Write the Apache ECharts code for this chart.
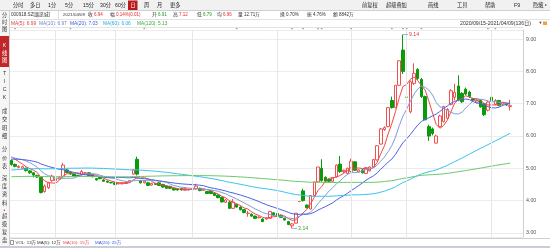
<!DOCTYPE html>
<html><head><meta charset="utf-8">
<script src="https://cdn.jsdelivr.net/npm/echarts@6/dist/echarts.min.js"></script>
<style>html,body{margin:0;padding:0;background:#fff}#c{width:550px;height:248px}</style>
</head><body><div id="c"></div><script>
// ---- categories: trading days 2020/09/15 - 2021/04/09 ----
const months = ['2020/09','2020/10','2020/11','2020/12','2021/01','2021/02','2021/03','2021/04'];
const monthDays = [
 [15,16,17,18,21,22,23,24,25,28,29,30],
 [9,12,13,14,15,16,19,20,21,22,23,26,27,28,29,30],
 [2,3,4,5,6,9,10,11,12,13,16,17,18,19,20,23,24,25,26,27,30],
 [1,2,3,4,7,8,9,10,11,14,15,16,17,18,21,22,23,24,25,28,29,30,31],
 [4,5,6,7,8,11,12,13,14,15,18,19,20,21,22,25,26,27,28,29],
 [1,2,3,4,5,8,9,10,18,19,22,23,24,25,26],
 [1,2,3,4,5,8,9,10,11,12,15,16,17,18,19,22,23,24,25,26,29,30,31],
 [1,2,6,7,8,9]
];
// ---- daily prices ----
const open = [5.24,5.12,5.03,5.00,5.00,4.92,4.86,4.78,4.72,4.28, 4.40,4.62,4.62,4.66,4.74,4.95,4.88,4.82,4.78,4.80, 4.85,4.86,4.80,4.68,4.72,4.64,4.60,4.56,4.55,4.52, 4.52,4.53,4.56,4.82,5.28,4.62,4.55,4.55,4.48,4.53, 4.55,4.50,4.45,4.44,4.38,4.36,4.37,4.32,4.33,4.35, 4.36,4.38,4.32,4.28,4.30,4.23,4.17,4.10,3.95,3.95, 3.76,3.88,3.80,3.72,3.60,3.58,3.52,3.47,3.43,3.43, 3.45,3.62,3.60,3.55,3.45,3.35,3.22,3.30,3.97,4.30, 3.86,3.74,4.16,4.58,5.00,4.72,4.66,4.60,4.74,5.13, 4.90,4.84,4.90,5.20,4.88,4.95,4.84,4.92,5.04,5.26, 5.75,6.20,6.29,7.10,6.88,7.57,8.66,7.20,6.75,7.63, 8.06,7.75,7.22,6.29,6.22,5.78,6.29,6.45,6.55,6.98, 7.20,7.55,7.32,7.45,7.36,7.15,7.05,7.10,7.00,6.80, 7.20,6.98,7.10,6.98,7.00,6.91];
const close = [5.12,5.06,5.06,5.05,4.93,4.86,4.79,4.73,4.25,4.45, 4.55,4.76,4.68,4.72,5.10,4.87,4.82,4.76,4.76,4.90, 4.86,4.78,4.74,4.64,4.68,4.60,4.57,4.55,4.50,4.54, 4.55,4.56,4.62,4.95,4.82,4.55,4.60,4.47,4.53,4.50, 4.47,4.42,4.38,4.38,4.33,4.33,4.33,4.37,4.35,4.38, 4.45,4.31,4.33,4.22,4.22,4.16,4.09,3.96,4.02,3.76, 3.95,3.80,3.72,3.63,3.61,3.52,3.45,3.49,3.35,3.46, 3.66,3.55,3.52,3.48,3.40,3.26,3.28,3.61,3.97,4.00, 3.78,4.16,4.58,5.04,4.62,4.60,4.60,4.70,5.10,4.90, 4.94,5.00,5.22,4.94,4.95,4.86,5.02,5.04,5.27,5.70, 6.22,6.26,6.88,6.88,7.57,8.33,8.00,7.20,7.68,7.94, 7.78,7.22,6.50,6.00,6.08,6.00,6.62,6.91,6.82,7.40, 7.35,7.12,7.06,7.30,7.22,7.10,7.10,6.90,6.66,7.05, 7.10,7.10,6.95,7.03,6.96,6.94];
const low = [5.08,5.03,5.00,4.97,4.90,4.83,4.72,4.70,4.22,4.25, 4.36,4.58,4.60,4.64,4.72,4.85,4.80,4.74,4.74,4.78, 4.83,4.76,4.72,4.62,4.66,4.58,4.55,4.53,4.48,4.50, 4.50,4.52,4.55,4.80,4.78,4.53,4.53,4.45,4.46,4.48, 4.45,4.40,4.36,4.36,4.31,4.31,4.31,4.30,4.31,4.33, 4.34,4.29,4.30,4.20,4.20,4.14,4.07,3.94,3.93,3.74, 3.74,3.78,3.70,3.61,3.50,3.50,3.43,3.45,3.33,3.41, 3.44,3.53,3.50,3.46,3.38,3.24,3.14,3.29,3.97,3.97, 3.76,3.72,4.14,4.56,4.58,4.56,4.56,4.58,4.72,4.86, 4.86,4.82,4.88,4.92,4.86,4.84,4.82,4.90,5.02,5.24, 5.73,6.16,6.27,6.85,6.86,7.55,7.92,7.20,6.70,7.58, 7.74,7.18,6.50,5.85,6.02,5.76,6.26,6.42,6.52,6.95, 7.10,7.08,7.02,7.26,7.18,7.06,7.02,6.88,6.62,6.76, 6.70,6.95,6.92,6.95,6.93,6.79];
const high = [5.28,5.15,5.09,5.08,5.02,4.94,4.88,4.80,4.74,4.50, 4.58,4.80,4.72,4.75,5.17,4.98,4.90,4.84,4.80,4.95, 4.88,4.88,4.82,4.70,4.74,4.66,4.62,4.58,4.57,4.56, 4.57,4.58,4.64,4.98,5.36,4.64,4.62,4.57,4.55,4.55, 4.57,4.52,4.47,4.46,4.40,4.38,4.39,4.39,4.37,4.40, 4.52,4.40,4.35,4.30,4.32,4.25,4.19,4.12,4.05,3.98, 4.05,3.90,3.82,3.74,3.68,3.60,3.54,3.51,3.45,3.48, 3.68,3.64,3.62,3.57,3.47,3.37,3.30,3.61,3.97,4.37, 3.88,4.16,4.58,5.04,5.28,4.75,4.68,4.72,5.12,5.38, 4.96,5.02,5.30,5.22,4.97,4.98,5.04,5.06,5.29,5.72, 6.25,6.30,6.89,7.22,7.57,8.33,9.14,7.20,7.72,8.25, 8.10,7.80,7.25,6.35,6.26,6.04,6.66,6.94,6.86,7.45, 7.62,7.88,7.36,7.50,7.40,7.18,7.15,7.12,7.03,7.10, 7.30,7.14,7.12,7.06,7.03,7.12];
// estimated closes before 2020/09/15 (only feed the moving averages)
const priorClose = [4.62,4.68,4.71,4.75,4.8,4.78,4.74,4.7,4.76,4.82,4.85,4.81,4.77,4.72,4.7,4.74,4.79,4.83,4.8,4.76,4.73,4.69,4.72,4.78,4.81,4.77,4.74,4.7,4.66,4.62,4.58,4.52,4.45,4.38,
 4.3,4.22,4.18,4.15,4.12,4.1,4.14,4.18,4.2,4.16,4.13,4.17,4.22,4.26,4.3,4.35,
 4.38,4.42,4.4,4.45,4.48,4.5,4.47,4.44,4.46,4.5,4.53,4.55,4.52,4.5,4.54,4.58,4.56,4.53,4.55,4.6,4.62,4.58,4.6,4.64,4.66,4.7,4.68,4.72,
 4.75,4.78,4.82,4.8,4.85,4.88,4.86,4.9,4.93,4.9,4.88,4.92,4.95,4.98,4.96,4.94,4.97,5.0,5.02,5.05,5.08,5.1,
 5.12,5.15,5.2,5.18,5.22,5.25,5.28,5.3,5.27,5.32,5.35,5.3,5.28,5.34,5.38,5.42,5.45,5.4,5.38];
const maPeriods = [5,10,20,60,120];
const maColors = ['#f04848','#7f9cd8','#4a62ea','#3cc2ec','#6cc86c'];
const maTextColors = ['#e23a3a','#6a86c4','#3c58e0','#22a9dc','#3aa83a'];
const yTicks = [3,4,5,6,7,8,9];
const eventDays = [1,16,36,61,76,79,83,84,92,103,106,107,111,129,131];
// ---- header texts ----
const toolbarLeft = ['分时','多日','1分','5分','15分','30分','60分','日','周','月','更多'];
const toolbarRight = ['前复权','超级叠加','画线','工具','帮助','F9','隐藏'];
const quoteItems = [['收','6.94','#e32b2b'],['幅','0.14%(0.01)','#e32b2b'],['开','6.91','#1a9a1a'],['高','7.12','#e32b2b'],['低','6.79','#1a9a1a'],['均','6.96','#e32b2b'],['量','12.71万','#333'],['换','0.70%','#333'],['振','4.76%','#333'],['额','8842万','#333']];
const maLegend = ['MA(5): 6.99','MA(10): 6.97','MA(20): 7.03','MA(60): 6.06','MA(120): 5.13'];
const volLegend = [['VOL: 13万','#333'],['MA(5): 12万','#333'],['MA(10): 15万','#e84a4a'],['MA(20): 25万','#3e5ce0']];
const sideTabs = ['分时图','K线图','TICK','成交明细','分价表','深度资料','超级复盘'];

// ---- build ----
const dates = [];
months.forEach((m,k)=>monthDays[k].forEach(d=>dates.push(m+'/'+String(d).padStart(2,'0'))));
const axisCats = dates.concat(['','','']);
const ohlc = dates.map((d,i)=>[open[i],close[i],low[i],high[i]]);
const allClose = priorClose.concat(close);
function movingAvg(n){
  return close.map((_,i)=>{const j=i+priorClose.length; if(j-n+1<0) return null; let s=0; for(let k=j-n+1;k<=j;k++) s+=allClose[k]; return +(s/n).toFixed(3);});
}
const monthStarts = [];
for(let i=1;i<dates.length;i++){ if(dates[i].slice(0,7)!==dates[i-1].slice(0,7)) monthStarts.push(i); }

const F = '"Liberation Sans","Noto Sans CJK SC",sans-serif';
function T(x,y,text,fill,size,align){return {type:'text',x:x,y:y,silent:true,z:100,style:{text:text,fill:fill||'#333',font:(size||5)+'px '+F,textAlign:align||'left',textVerticalAlign:'middle'}};}
function R(x,y,w,h,fill,stroke,z){return {type:'rect',silent:true,z:z||90,shape:{x:x,y:y,width:w,height:h},style:{fill:fill||'none',stroke:stroke||null,lineWidth:1}};}
function L(x1,y1,x2,y2,c){return {type:'line',silent:true,z:95,shape:{x1:x1,y1:y1,x2:x2,y2:y2},style:{stroke:c||'#d0d0d0',lineWidth:1}};}

const g = [];
// toolbar
g.push(R(0,0,550,10,'#f1f1f1',null,80));
g.push(L(0,10.5,550,10.5,'#cfcfcf'));
const tlX=[13,30,48,65,83,100,115,130,144,157,170];
toolbarLeft.forEach((s,k)=>{
  if(s==='日'){ g.push(R(128,0.5,9.5,9.5,'#b81c1c',null,91)); g.push(T(132.8,5.3,s,'#fff',5.2,'center')); }
  else g.push(T(tlX[k],5.3,s,'#222',5.2));
});
const trX=[362,386,428,457,485,514,533];
toolbarRight.forEach((s,k)=>g.push(T(trX[k],5.3,s,'#222',5.2)));
g.push(T(545,5.3,'▸','#555',4));
// quote row
g.push(L(10,19.5,550,19.5,'#e2e2e2'));
g.push(T(11,14.7,'000918.SZ[嘉凯城]','#333',4.6));
g.push(L(58.5,11,58.5,19,'#e0e0e0'));
g.push(T(63,14.7,'2021/04/09','#333',4.4));
const qX=[88,110,152,173,197,217,238,280,307,333];
quoteItems.forEach((q,k)=>{ g.push(T(qX[k],14.7,q[0],'#333',4.8)); g.push(T(qX[k]+6,14.7,q[1],q[2],4.5)); });
// MA legend row
const mlX=[11,39,70,103,137];
maLegend.forEach((s,k)=>g.push(T(mlX[k],23.3,s,maTextColors[k],4.8)));
g.push(T(460,23.3,'2020/09/15-2021/04/09(136日)','#333',5.2));
g.push(T(538.5,23.3,'▼','#444',4));
g.push(R(543,21.5,4,3.5,'#f2a23a',null,91));
g.push(L(10,27.5,523,27.5,'#e4e4e4'));
// left sidebar
g.push(R(0,10.5,9,237,'#f6f6f6',null,80));
g.push(L(9.5,10.5,9.5,248,'#cfcfcf'));
g.push(R(0,36,9,31,'#c3262a',null,91));
const tabY=[[15.5,22.5,29.5],[45.5,53.5,60.5],[73.5,81.5,89.5,97.5],[111.5,120,128.3,136.7],[150,158.3,166.5],[178.3,186.7,195,203.3],[216.7,225,232.7,240.7]];
sideTabs.forEach((s,k)=>{ const ch=Array.from(s); ch.forEach((c,j)=>g.push(T(4.5,tabY[k][j],c,k===1?'#fff':'#333',5.2,'center'))); });
g.push(T(4.5,210.5,'•','#e02020',5,'center'));
// bottom VOL row
g.push(L(9.5,238.5,550,238.5,'#cfcfcf'));
g.push(R(10.5,240.5,3,4,'#fff','#999',91));
const vX=[15.5,37,63,95];
volLegend.forEach((v,k)=>g.push(T(vX[k],242.8,v[0],v[1],4.4)));
g.push(R(0,246,550,2,'#c9ced6',null,91));

const series = [{
  type:'candlestick', name:'K', data:ohlc, barWidth:3,
  itemStyle:{color:'#ffffff',color0:'#0a9a0a',borderColor:'#f05050',borderColor0:'#0a9a0a',borderWidth:1},
  markLine:{silent:true,symbol:'none',label:{show:false},lineStyle:{color:'#e6e6e6',type:'solid',width:1},animation:false,
    data:monthStarts.map(i=>({xAxis:dates[i]}))},
  markPoint:{symbol:'rect',symbolSize:[5,1],symbolOffset:[2.5,0],animation:false,
    data:[{type:'max',valueDim:'highest',itemStyle:{color:'#6bbfd6'},label:{color:'#e03838'}},
          {type:'min',valueDim:'lowest',itemStyle:{color:'#6bbfd6'},label:{color:'#3a9a3a'}}],
    label:{show:true,position:'right',distance:1,fontSize:5.2,fontFamily:'Liberation Sans',formatter:p=>Number(p.value).toFixed(2)}}
}];
maPeriods.forEach((n,k)=>series.push({type:'line',name:'MA'+n,data:movingAvg(n),symbol:'none',smooth:false,
  lineStyle:{width:1,color:maColors[k]},z:3}));
series.push({type:'scatter',data:eventDays.map(i=>[dates[i],9.33]),symbol:'circle',symbolSize:1.8,clip:false,silent:true,
  itemStyle:{color:'#888'}});

const chart = echarts.init(document.getElementById('c'),null,{renderer:'canvas'});
chart.setOption({
  animation:false, backgroundColor:'#fff',
  grid:{left:9.5,right:27,top:30,bottom:11,containLabel:false},
  xAxis:{type:'category',data:axisCats,boundaryGap:true,axisLine:{show:false},axisTick:{show:false},axisLabel:{show:false},splitLine:{show:false}},
  yAxis:{type:'value',position:'right',min:2.873,max:9.282,minInterval:1,maxInterval:1,scale:true,
    axisLine:{show:true,lineStyle:{color:'#cfcfcf'}},axisTick:{show:false},
    axisLabel:{color:'#555',fontSize:5.3,fontFamily:'Liberation Sans',margin:3,showMinLabel:false,showMaxLabel:false,
      formatter:v=>yTicks.indexOf(Math.round(v*1000)/1000)>=0?v.toFixed(2):''},
    splitLine:{show:true,lineStyle:{color:'#ececec',width:1}}},
  series:series,
  graphic:{elements:g}
});
</script></body></html>
